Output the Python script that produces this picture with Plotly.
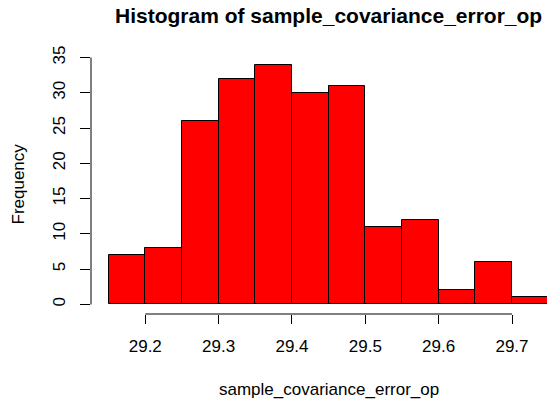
import plotly.graph_objects as go

# Data
breaks = [29.15, 29.20, 29.25, 29.30, 29.35, 29.40, 29.45, 29.50, 29.55, 29.60, 29.65, 29.70, 29.75]
counts = [7, 8, 26, 32, 34, 30, 31, 11, 12, 2, 6, 1]
x_ticks = [29.2, 29.3, 29.4, 29.5, 29.6, 29.7]
x_tick_labels = ["29.2", "29.3", "29.4", "29.5", "29.6", "29.7"]
y_ticks = [0, 5, 10, 15, 20, 25, 30, 35]
y_tick_labels = ["0", "5", "10", "15", "20", "25", "30", "35"]

title_text = "Histogram of sample_covariance_error_op"
x_title = "sample_covariance_error_op"
y_title = "Frequency"

centers = [(a + b) / 2 for a, b in zip(breaks[:-1], breaks[1:])]
widths = [b - a for a, b in zip(breaks[:-1], breaks[1:])]

FONT = "Liberation Sans, Arial, Helvetica, sans-serif"

fig = go.Figure()
fig.add_trace(go.Bar(
    x=centers, y=counts, width=widths,
    marker=dict(color="#FF0000", line=dict(color="#000000", width=1)),
    showlegend=False, hoverinfo="x+y",
))

# R-style extended ranges (4%)
xr = [breaks[0], breaks[-1]]
xpad = 0.04 * (xr[1] - xr[0])
yr = [0, max(counts)]
ypad = 0.04 * (yr[1] - yr[0])

fig.update_layout(
    template="none",
    width=547, height=402,
    margin=dict(l=91, r=0, t=55, b=88),
    paper_bgcolor="white", plot_bgcolor="white",
    font=dict(family=FONT, size=17, color="#000000"),
    bargap=0,
    xaxis=dict(
        range=[xr[0] - xpad, 29.7477], automargin=False,
        tickmode="array", tickvals=x_ticks, ticktext=x_tick_labels,
        ticks="outside", ticklen=9, tickwidth=1, tickcolor="#000000",
        ticklabelstandoff=8,
        showgrid=False, zeroline=False, showline=False,
        tickfont=dict(size=17, family=FONT, color="#000000"),
    ),
    yaxis=dict(
        range=[yr[0] - ypad, yr[1] + ypad], automargin=False,
        tickmode="array", tickvals=y_ticks, ticktext=y_tick_labels,
        ticks="outside", ticklen=10, tickwidth=1, tickcolor="#000000",
        tickangle=-90, ticklabelstandoff=8,
        showgrid=False, zeroline=False, showline=False,
        tickfont=dict(size=17, family=FONT, color="#000000"),
    ),
)

# R draws axis lines only between first and last tick
fig.add_shape(type="line", xref="x", yref="paper",
              x0=min(x_ticks), x1=max(x_ticks), y0=0, y1=0,
              line=dict(color="#000000", width=1))
fig.add_shape(type="line", xref="paper", yref="y",
              x0=0, x1=0, y0=min(y_ticks), y1=max(y_ticks),
              line=dict(color="#000000", width=1))

mid_x = (breaks[0] + breaks[-1]) / 2

fig.add_annotation(text="<b>" + title_text + "</b>", xref="x", yref="paper",
                   x=mid_x, y=1, yshift=40, xanchor="center", yanchor="middle",
                   showarrow=False, font=dict(size=21, family=FONT, color="#000000"))
fig.add_annotation(text=x_title, xref="x", yref="paper",
                   x=mid_x, y=0, yshift=-75, xanchor="center", yanchor="middle",
                   showarrow=False, font=dict(size=17, family=FONT, color="#000000"))
fig.add_annotation(text=y_title, xref="paper", yref="y",
                   x=0, xshift=-73, y=(yr[0] + yr[1]) / 2, textangle=-90,
                   xanchor="center", yanchor="middle",
                   showarrow=False, font=dict(size=17, family=FONT, color="#000000"))

fig.write_html("out.html",
               config={"displayModeBar": False},
               post_script="document.body.style.margin='0';document.body.style.overflow='hidden';")
